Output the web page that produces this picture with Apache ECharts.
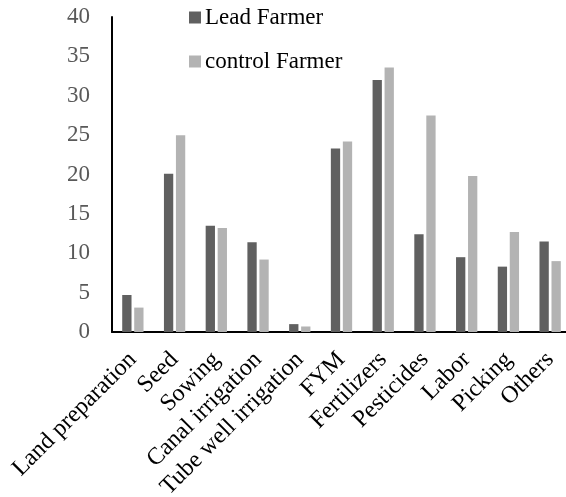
<!DOCTYPE html>
<html>
<head>
<meta charset="utf-8">
<script src="https://cdn.jsdelivr.net/npm/echarts@6/dist/echarts.min.js"></script>
<style>
  html, body { margin: 0; padding: 0; background: #fff; }
  #chart { width: 566px; height: 497px; }
</style>
</head>
<body>
<div id="chart"></div>
<script>
// Cost components per farmer group
const categories = ['Land preparation', 'Seed', 'Sowing', 'Canal irrigation', 'Tube well irrigation',
  'FYM', 'Fertilizers', 'Pesticides', 'Labor', 'Picking', 'Others'];
const leadFarmer = [4.7, 20.1, 13.5, 11.4, 1.0, 23.3, 32.0, 12.4, 9.5, 8.3, 11.5];
const controlFarmer = [3.1, 25.0, 13.2, 9.2, 0.7, 24.2, 33.6, 27.5, 19.8, 12.7, 9.0];
const seriesNames = ['Lead Farmer', 'control Farmer'];

const FONT = "'Liberation Serif', 'Times New Roman', serif";

const chart = echarts.init(document.getElementById('chart'), null, { renderer: 'canvas' });
chart.setOption({
  animation: false,
  backgroundColor: '#ffffff',
  textStyle: { fontFamily: FONT },
  legend: {
    orient: 'vertical',
    left: 184,
    top: 1,
    itemWidth: 12,
    itemHeight: 12,
    itemGap: 21,
    icon: 'rect',
    textStyle: { fontFamily: FONT, fontSize: 23, color: '#000', lineHeight: 23, padding: [0, 0, 0, -1] },
    data: seriesNames
  },
  grid: {
    left: 112, top: 17, width: 459, height: 315,
    containLabel: false,
    outerBoundsMode: 'none'
  },
  xAxis: {
    type: 'category',
    data: categories,
    axisLine: { lineStyle: { color: '#000', width: 2 } },
    axisTick: { show: false },
    axisLabel: {
      interval: 0,
      rotate: 45,
      margin: 24,
      fontFamily: FONT,
      fontSize: 24,
      color: '#000'
    }
  },
  yAxis: {
    type: 'value',
    min: 0,
    max: 40,
    interval: 5,
    splitLine: { show: false },
    axisLine: { show: true, lineStyle: { color: '#000', width: 2 } },
    axisTick: { show: false },
    axisLabel: { margin: 22, fontFamily: FONT, fontSize: 23, color: '#595959' }
  },
  series: [
    {
      name: seriesNames[0],
      type: 'bar',
      data: leadFarmer,
      barWidth: 9.3,
      barGap: '29%',
      itemStyle: { color: '#606060' }
    },
    {
      name: seriesNames[1],
      type: 'bar',
      data: controlFarmer,
      barWidth: 9.3,
      barGap: '29%',
      itemStyle: { color: '#b3b3b3' }
    }
  ]
});
</script>
</body>
</html>
